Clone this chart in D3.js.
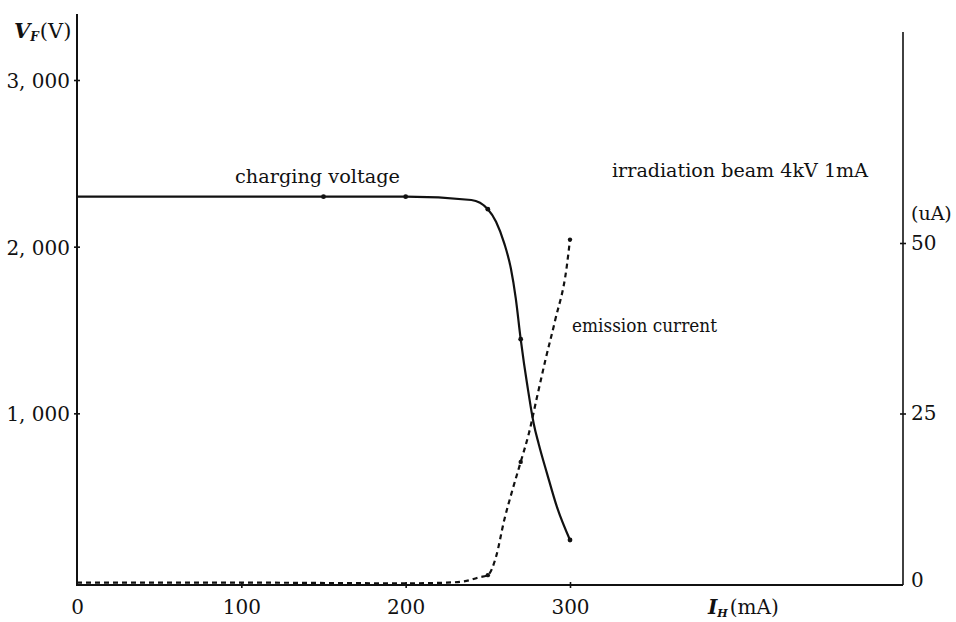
<!DOCTYPE html>
<html>
<head>
<meta charset="utf-8">
<script src="https://cdn.jsdelivr.net/npm/d3@7"></script>
<style>
  html, body { margin: 0; padding: 0; background: #fff; }
  svg { display: block; }
  text { font-family: "DejaVu Serif", "Liberation Serif", serif; fill: #111; }
</style>
</head>
<body>
<svg id="chart" width="956" height="622"></svg>
<script>
// Heater current I_H (mA) vs. charging voltage V_F (V)
const chargeI = [0, 100, 150, 200, 240, 250, 255, 260, 264, 267, 270, 272, 274, 276, 278, 281, 286, 292, 300];
const chargeV = [2300, 2300, 2300, 2300, 2280, 2225, 2150, 2020, 1870, 1690, 1445, 1300, 1170, 1045, 935, 815, 640, 440, 240];
const chargeMarks = [150, 200, 250, 270, 300];

// Heater current I_H (mA) vs. emission current (uA)
const emitI = [0, 100, 200, 225, 237, 245, 250, 255, 260, 265, 270, 275, 280, 285, 291, 298, 300];
const emitC = [0.2, 0.2, 0.1, 0.2, 0.45, 1.0, 1.3, 4.0, 9.4, 13.8, 17.9, 22.1, 27.5, 32.8, 38.7, 46.5, 50.5];
const emitMarks = [250, 270, 300];

const xTicks = [0, 100, 200, 300];
const vTicks = [1000, 2000, 3000];
const cTicks = [0, 25, 50];

const svg = d3.select("#chart");

const x = d3.scaleLinear().domain([0, 300]).range([77, 570]);
const yV = d3.scaleLinear().domain([0, 3000]).range([580, 80]);
const yC = d3.scaleLinear().domain([0, 50]).range([584, 243]);

const left = 77, right = 903, bottom = 585;
const tickFont = 20;

// frame lines
svg.append("line").attr("x1", left).attr("x2", left).attr("y1", 14).attr("y2", bottom)
  .attr("stroke", "#111").attr("stroke-width", 2);
svg.append("line").attr("x1", left - 1).attr("x2", right).attr("y1", bottom).attr("y2", bottom)
  .attr("stroke", "#111").attr("stroke-width", 2.2);
svg.append("line").attr("x1", right).attr("x2", right).attr("y1", 32).attr("y2", bottom)
  .attr("stroke", "#111").attr("stroke-width", 1.6);

// bottom axis
const xAxis = svg.append("g").attr("transform", `translate(0,${bottom})`)
  .call(d3.axisBottom(x).tickValues(xTicks).tickSize(3).tickPadding(12).tickFormat(d3.format("d")));
xAxis.select(".domain").remove();
xAxis.selectAll(".tick line").attr("y1", -3).attr("y2", 3).attr("stroke", "#111").attr("stroke-width", 1.6);
xAxis.selectAll(".tick").filter(d => d === 0).select("line").remove();
xAxis.selectAll(".tick text").attr("font-size", tickFont).attr("font-family", "DejaVu Serif, serif").attr("fill", "#111");

// left axis
const vAxis = svg.append("g").attr("transform", `translate(${left},0)`)
  .call(d3.axisLeft(yV).tickValues(vTicks).tickSize(3).tickPadding(4)
    .tickFormat(d => d3.format(",")(d).replace(",", ", ")));
vAxis.select(".domain").remove();
vAxis.selectAll(".tick line").attr("x1", -3).attr("x2", 3).attr("stroke", "#111").attr("stroke-width", 1.6);
vAxis.selectAll(".tick text").attr("font-size", tickFont).attr("font-family", "DejaVu Serif, serif").attr("fill", "#111")
  .attr("dy", "0.38em");

// right axis
const cAxis = svg.append("g").attr("transform", `translate(${right},0)`)
  .call(d3.axisRight(yC).tickValues(cTicks).tickSize(3).tickPadding(5).tickFormat(d3.format("d")));
cAxis.select(".domain").remove();
cAxis.selectAll(".tick line").attr("x1", -3).attr("x2", 3).attr("stroke", "#111").attr("stroke-width", 1.6);
cAxis.selectAll(".tick").filter(d => d === 0).select("line").remove();
cAxis.selectAll(".tick").filter(d => d === 0).select("text").attr("dy", "0.1em");
cAxis.selectAll(".tick text").attr("font-size", tickFont).attr("font-family", "DejaVu Serif, serif").attr("fill", "#111");

// axis titles
const vt = svg.append("text").attr("x", 14).attr("y", 38).attr("font-size", 21);
vt.append("tspan").text("V").attr("font-style", "italic").attr("font-weight", "bold");
vt.append("tspan").text("F").attr("font-style", "italic").attr("font-weight", "bold").attr("font-size", 12).attr("dy", 3);
vt.append("tspan").text("(V)").attr("dy", -3).attr("dx", 1);

const it = svg.append("text").attr("x", 708).attr("y", 614).attr("font-size", 20);
it.append("tspan").text("I").attr("font-style", "italic").attr("font-weight", "bold");
it.append("tspan").text("H").attr("font-style", "italic").attr("font-weight", "bold").attr("font-size", 11).attr("dy", 3);
it.append("tspan").text("(mA)").attr("dy", -3).attr("dx", 2);

svg.append("text").attr("x", 911).attr("y", 220).attr("font-size", 19).text("(uA)");

// curve labels
svg.append("text").attr("x", 235).attr("y", 183).attr("font-size", 19)
  .attr("textLength", 165).attr("lengthAdjust", "spacingAndGlyphs").text("charging voltage");
svg.append("text").attr("x", 612).attr("y", 177).attr("font-size", 19)
  .attr("textLength", 256).attr("lengthAdjust", "spacingAndGlyphs").text("irradiation beam 4kV 1mA");
svg.append("text").attr("x", 572).attr("y", 332).attr("font-size", 19)
  .attr("textLength", 145).attr("lengthAdjust", "spacingAndGlyphs").text("emission current");

// charging voltage curve
const charge = chargeI.map((d, i) => ({ i: d, v: chargeV[i] }));
const lineV = d3.line().x(d => x(d.i)).y(d => yV(d.v)).curve(d3.curveMonotoneX);
svg.append("path").datum(charge).attr("d", lineV)
  .attr("fill", "none").attr("stroke", "#111").attr("stroke-width", 2.2);
svg.selectAll(".vmark").data(charge.filter(d => chargeMarks.includes(d.i))).enter()
  .append("circle").attr("cx", d => x(d.i)).attr("cy", d => yV(d.v)).attr("r", 2.4).attr("fill", "#111");

// emission current curve
const emit = emitI.map((d, i) => ({ i: d, c: emitC[i] }));
const lineC = d3.line().x(d => x(d.i)).y(d => yC(d.c)).curve(d3.curveMonotoneX);
svg.append("path").datum(emit).attr("d", lineC)
  .attr("fill", "none").attr("stroke", "#111").attr("stroke-width", 2.2).attr("stroke-dasharray", "5,4");
svg.selectAll(".cmark").data(emit.filter(d => emitMarks.includes(d.i))).enter()
  .append("circle").attr("cx", d => x(d.i)).attr("cy", d => yC(d.c)).attr("r", 2.2).attr("fill", "#111");
</script>
</body>
</html>
